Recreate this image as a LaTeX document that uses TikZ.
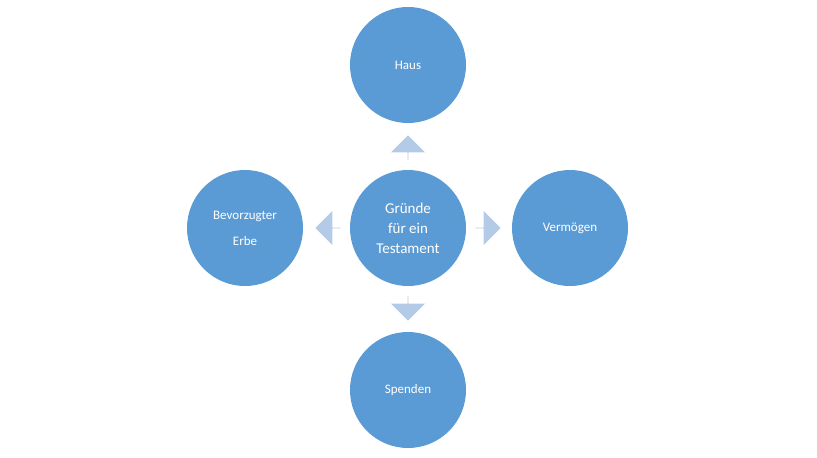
\documentclass[tikz,border=0pt]{standalone}
\usepackage{fontspec}
\setmainfont{Carlito}
\usetikzlibrary{shapes.arrows}
\definecolor{circ}{HTML}{5B9BD5}
\definecolor{arr}{HTML}{B4CBE8}
\begin{document}
\begin{tikzpicture}[x=1pt,y=-1pt,
  bub/.style={circle,fill=circ,minimum size=116pt,inner sep=0pt,text=white,align=center,font=\fontsize{13}{26}\selectfont},
  blk/.style={single arrow,fill=arr,minimum width=34pt,minimum height=25pt,single arrow head extend=7pt,inner sep=0pt}]
\useasboundingbox (0,0) rectangle (817,458);
\node[bub,font=\fontsize{15}{20}\selectfont] (c) at (408,228) {Gründe\\für ein\\Testament};
\node[bub] (t) at (408,65) {Haus};
\node[bub] (b) at (408,390) {Spenden};
\node[bub] (l) at (245,228) {Bevorzugter\\Erbe};
\node[bub] (r) at (570,228) {Vermögen};
\node[blk,shape border rotate=90] (at) at (408,148) {};
\node[blk,shape border rotate=270] (ab) at (408,308) {};
\node[blk,shape border rotate=180] (al) at (328,228) {};
\node[blk] (ar) at (488,228) {};
\end{tikzpicture}
\end{document}
